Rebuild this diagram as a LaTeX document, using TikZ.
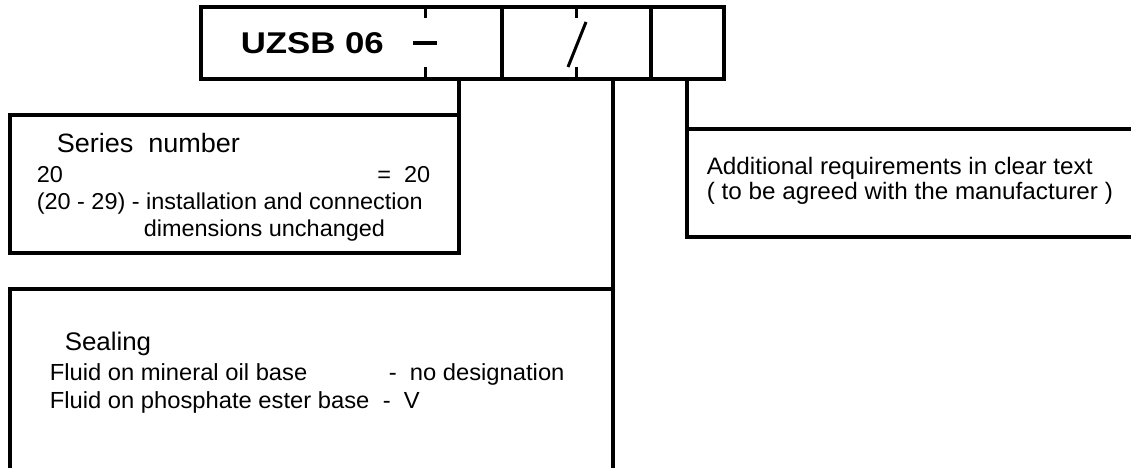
\documentclass[tikz,border=0pt]{standalone}
\usepackage{fontspec}
\setmainfont{Liberation Sans}
\newfontfamily\lblfont[FakeStretch=1.02]{Liberation Sans}
\newfontfamily\codefont[FakeStretch=1.16]{Liberation Sans}
\begin{document}
\begin{tikzpicture}[x=1pt,y=-1pt,line width=3.5pt,line join=miter,
  txt/.style={anchor=base west,inner sep=0pt,font=\lblfont\fontsize{23}{27}\selectfont},
  ttl/.style={anchor=base west,inner sep=0pt,font=\lblfont\fontsize{26.5}{31}\selectfont},
  thin/.style={line width=3pt}]
\useasboundingbox (0,0) rectangle (1131,468);
% top designation box
\coordinate (tl) at (201,7);
\coordinate (br) at (724,79);
\draw (tl) rectangle (br);
\draw (502,7) -- (502,79);
\draw (651,7) -- (651,79);
\node[anchor=base west,inner sep=0pt,font=\codefont\bfseries\fontsize{30}{34}\selectfont] (code) at (239,54) {UZSB 06};
\draw[thin] (425,7) -- (425,18);
\draw[thin] (425,67) -- (425,79);
\draw (413,43) -- (437,43);
\draw[thin] (576,7) -- (576,18);
\draw[thin] (576,67) -- (576,81);
\draw[thin] (586,22) -- (568,67);
% connector points
\coordinate (s1) at (459,79);
\coordinate (s2) at (613,79);
\coordinate (s3) at (687,79);
% Series number box
\coordinate (sA) at (10,115);
\coordinate (sB) at (459,253);
\draw (sA) rectangle (sB);
\draw (s1) -- (459,115);
\node[ttl] (st) at (55,152) {Series\ \ number};
\node[txt] (s20) at (35,182) {20};
\node[txt,anchor=base east] (seq) at (432,182) {=\ \ 20};
\node[txt] (sl2) at (35,209) {(20 - 29) - installation and connection};
\node[txt] (sl3) at (142,236) {dimensions unchanged};
% Sealing box
\coordinate (dA) at (10,468);
\coordinate (dB) at (10,289);
\coordinate (dC) at (613,289);
\draw (dA) -- (dB) -- (dC);
\draw (s2) -- (613,468);
\node[ttl,font=\lblfont\fontsize{25.4}{30}\selectfont] (dt) at (63,350) {Sealing};
\node[txt,font=\lblfont\fontsize{23.3}{27}\selectfont] (d1) at (48,380) {Fluid on mineral oil base};
\node[txt,font=\lblfont\fontsize{23.3}{27}\selectfont] (d1b) at (387,380) {-\ \ no designation};
\node[txt,font=\lblfont\fontsize{23.3}{27}\selectfont] (d2) at (48,408) {Fluid on phosphate ester base};
\node[txt,font=\lblfont\fontsize{23.3}{27}\selectfont] (d2b) at (381,408) {-\ \ V};
% Additional requirements box
\coordinate (aA) at (1131,129);
\coordinate (aB) at (687,129);
\coordinate (aC) at (687,237);
\coordinate (aD) at (1131,237);
\draw (s3) -- (aC) -- (aD);
\draw (aB) -- (aA);
\node[txt,font=\lblfont\fontsize{23.8}{28}\selectfont] (a1) at (705,174) {Additional\ requirements in clear text};
\node[txt,font=\lblfont\fontsize{23.8}{28}\selectfont] (a2) at (705,199) {( to be agreed with the manufacturer )};
\end{tikzpicture}
\end{document}
